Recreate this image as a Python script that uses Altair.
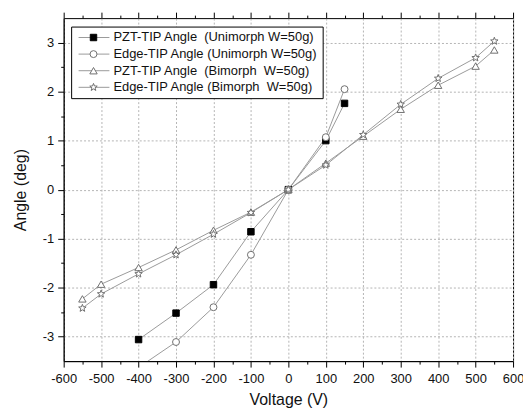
import math
import altair as alt
import pandas as pd

# ---------------- data ----------------
series_names = [
    "PZT-TIP Angle\u00a0 (Unimorph W=50g)",
    "Edge-TIP Angle (Unimorph W=50g)",
    "PZT-TIP Angle\u00a0 (Bimorph\u00a0 W=50g)",
    "Edge-TIP Angle (Bimorph\u00a0 W=50g)",
]
uni_voltage = [-400, -300, -200, -100, 0, 100, 150]
uni_pzt = [-3.06, -2.52, -1.94, -0.86, 0.0, 1.00, 1.76]
uni_edge = [-3.63, -3.11, -2.40, -1.33, 0.0, 1.07, 2.05]
bi_voltage = [-550, -500, -400, -300, -200, -100, 0, 100, 200, 300, 400, 500, 550]
bi_pzt = [-2.23, -1.93, -1.59, -1.23, -0.83, -0.46, 0.0, 0.54, 1.09, 1.64, 2.13, 2.52, 2.85]
bi_edge = [-2.42, -2.13, -1.72, -1.33, -0.91, -0.47, 0.0, 0.50, 1.12, 1.74, 2.27, 2.69, 3.03]

x_major = list(range(-600, 601, 100))
x_minor = list(range(-550, 551, 100))
y_major = [-3, -2, -1, 0, 1, 2, 3]
y_minor = [-2.5, -1.5, -0.5, 0.5, 1.5, 2.5]

rows = []
for name, xs, ys in [
    (series_names[0], uni_voltage, uni_pzt),
    (series_names[1], uni_voltage, uni_edge),
    (series_names[2], bi_voltage, bi_pzt),
    (series_names[3], bi_voltage, bi_edge),
]:
    for xv, yv in zip(xs, ys):
        rows.append({"series": name, "voltage": xv, "angle": yv})
df = pd.DataFrame(rows)

# ---------------- styles ----------------
pts = []
for k in range(10):
    r = 1.0 if k % 2 == 0 else 0.42
    a = math.radians(-90 + 36 * k)
    pts.append(f"{r * math.cos(a):.3f},{r * math.sin(a):.3f}")
STAR = "M" + "L".join(pts) + "Z"

FONT = "Liberation Sans"
TXT = "#111111"
LINE_COLOR = "#9a9a9a"
GRID = dict(grid=True, gridColor="#b4b4b4", gridDash=[2, 2], gridWidth=1)
shape_scale = alt.Scale(domain=series_names, range=["square", "circle", "triangle-up", STAR])
fill_scale = alt.Scale(domain=series_names, range=["black", "white", "white", "white"])
stroke_scale = alt.Scale(domain=series_names, range=["black", "#707070", "#707070", "#707070"])
size_scale = alt.Scale(domain=series_names, range=[42, 62, 70, 95])

x_scale = alt.Scale(domain=[-600, 600], nice=False, zero=False)
y_scale = alt.Scale(domain=[-3.5, 3.5], nice=False, zero=False)


def minor_axis(orient, values, size):
    return alt.Axis(orient=orient, values=values, labels=False, grid=False, domain=False,
                    tickSize=size, tickColor="black", title=None)


x_axis_bottom = alt.Axis(
    orient="bottom", values=x_major,
    labelExpr="'' + datum.value", labelOverlap=False, labelFlush=False,
    tickSize=6, domainColor="black", tickColor="black",
    labelFont=FONT, labelFontSize=13, labelColor=TXT, labelPadding=6,
    title="Voltage (V)", titleFont=FONT, titleFontSize=16, titleFontWeight="normal",
    titleColor=TXT, titlePadding=6, **GRID,
)
y_axis_left = alt.Axis(
    orient="left", values=y_major,
    labelExpr="'' + datum.value", labelOverlap=False, labelFlush=False,
    tickSize=6, domainColor="black", tickColor="black",
    labelFont=FONT, labelFontSize=13, labelColor=TXT, labelPadding=4,
    title="Angle (deg)", titleFont=FONT, titleFontSize=16, titleFontWeight="normal",
    titleColor=TXT, titlePadding=14, **GRID,
)

lines = alt.Chart(df).mark_line(color=LINE_COLOR, strokeWidth=1, clip=True).encode(
    x=alt.X("voltage:Q", scale=x_scale, axis=x_axis_bottom),
    y=alt.Y("angle:Q", scale=y_scale, axis=y_axis_left),
    detail="series:N",
    order="voltage:Q",
)

points = alt.Chart(df).mark_point(strokeWidth=1, opacity=1, fillOpacity=1, clip=True).encode(
    x=alt.X("voltage:Q", scale=x_scale, axis=minor_axis("top", x_major, 6)),
    y=alt.Y("angle:Q", scale=y_scale, axis=minor_axis("left", y_minor, 3)),
    shape=alt.Shape("series:N", scale=shape_scale, legend=None),
    fill=alt.Fill("series:N", scale=fill_scale, legend=None),
    stroke=alt.Stroke("series:N", scale=stroke_scale, legend=None),
    size=alt.Size("series:N", scale=size_scale, legend=None),
)

ghost_bottom = alt.Chart(df).mark_point(opacity=0).encode(
    x=alt.X("voltage:Q", scale=x_scale, axis=minor_axis("bottom", x_minor, 3)),
    y=alt.Y("angle:Q", scale=y_scale, axis=None),
)
ghost_top = alt.Chart(df).mark_point(opacity=0).encode(
    x=alt.X("voltage:Q", scale=x_scale, axis=minor_axis("top", x_minor, 3)),
    y=alt.Y("angle:Q", scale=y_scale, axis=None),
)

# ---------------- manual legend ----------------
box = alt.Chart(pd.DataFrame({"k": [0]})).mark_rect(
    fill="white", stroke="black", strokeWidth=1
).encode(x=alt.value(8), x2=alt.value(261), y=alt.value(9), y2=alt.value(81))

legend_layers = [box]
for i, name in enumerate(series_names):
    ly = 19.5 + 16.7 * i
    one = pd.DataFrame({"series": [name]})
    legend_layers.append(
        alt.Chart(one).mark_rule(color=LINE_COLOR, strokeWidth=1).encode(
            x=alt.value(15), x2=alt.value(46), y=alt.value(ly)
        )
    )
    legend_layers.append(
        alt.Chart(one).mark_point(strokeWidth=1, opacity=1, fillOpacity=1).encode(
            x=alt.value(30), y=alt.value(ly),
            shape=alt.Shape("series:N", scale=shape_scale, legend=None),
            fill=alt.Fill("series:N", scale=fill_scale, legend=None),
            stroke=alt.Stroke("series:N", scale=stroke_scale, legend=None),
            size=alt.Size("series:N", scale=size_scale, legend=None),
        )
    )
    legend_layers.append(
        alt.Chart(one).mark_text(
            align="left", baseline="middle", font=FONT, fontSize=13, color=TXT
        ).encode(x=alt.value(50), y=alt.value(ly), text="series:N")
    )

chart = (
    alt.layer(lines, points, ghost_bottom, ghost_top, *legend_layers)
    .resolve_axis(x="independent", y="independent")
    .properties(
        width=452, height=345,
        autosize=alt.AutoSizeParams(type="none"),
        padding={"left": 56, "top": 9, "right": 10, "bottom": 50},
    )
    .configure_view(stroke="black", strokeWidth=1)
)

chart.save("out.html", embed_options={"renderer": "svg", "actions": False})
